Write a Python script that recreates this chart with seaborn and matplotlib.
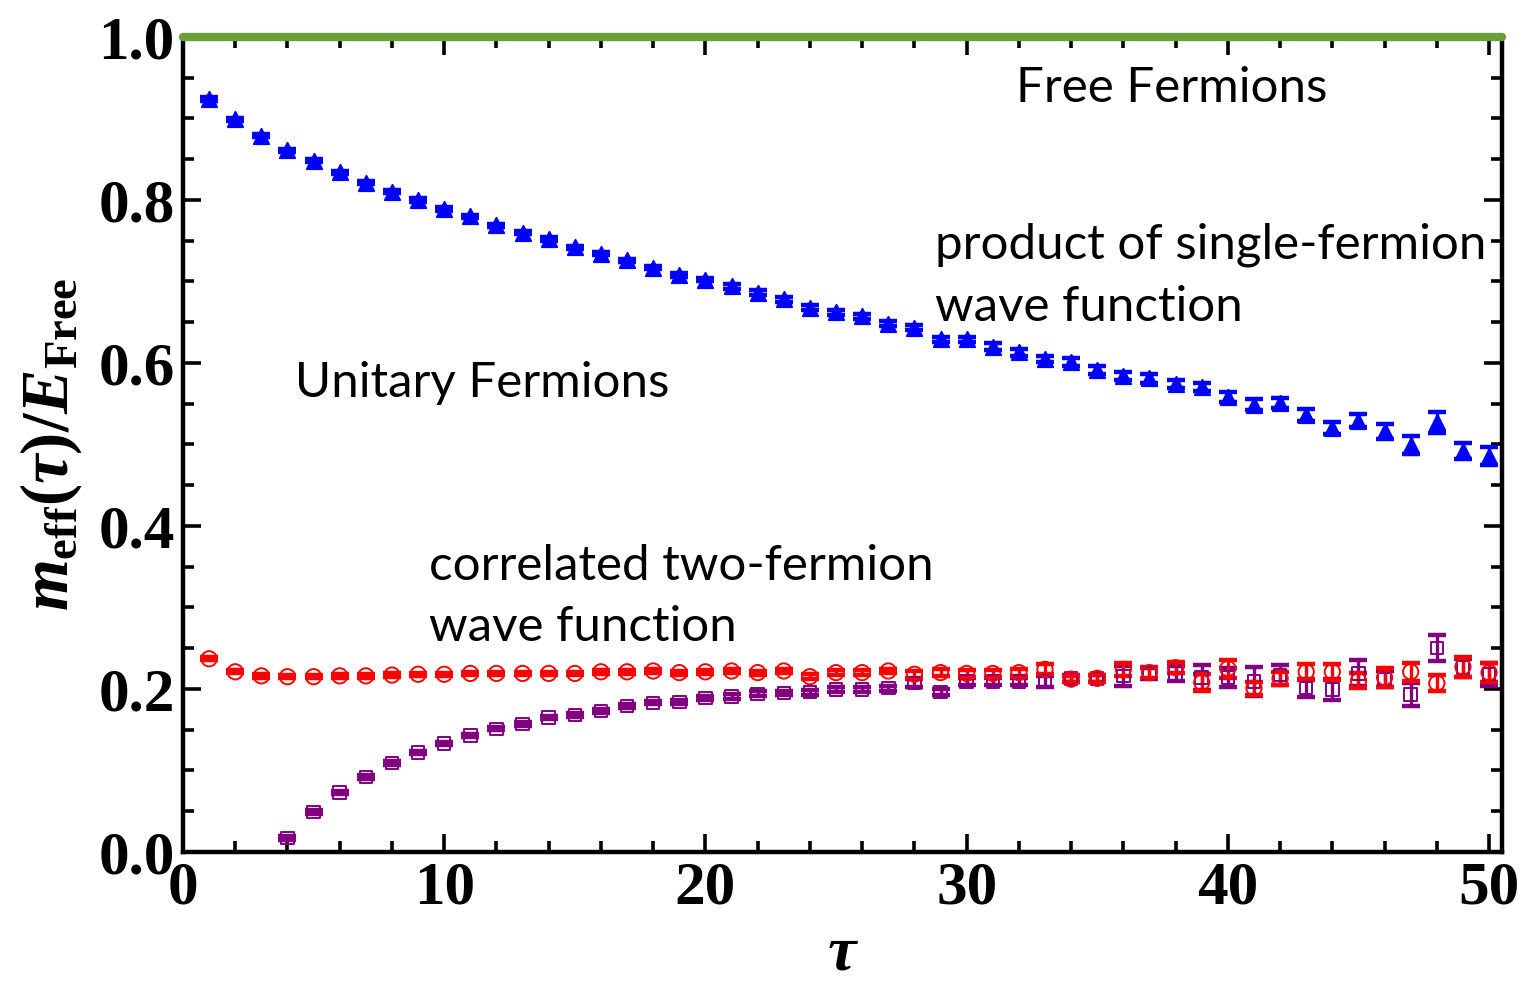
import numpy as np
import pandas as pd
import matplotlib
matplotlib.use("Agg")
import matplotlib.pyplot as plt
import seaborn as sns
from matplotlib.ticker import MultipleLocator

# Effective mass ratio m_eff(tau)/E_Free for two trial wave functions
tau_single = list(range(1, 51))
m_single = [0.924, 0.899, 0.879, 0.861, 0.848, 0.834, 0.821, 0.810, 0.800, 0.789,
            0.780, 0.769, 0.760, 0.752, 0.742, 0.734, 0.726, 0.717, 0.708, 0.702,
            0.694, 0.686, 0.678, 0.668, 0.662, 0.657, 0.648, 0.643, 0.629, 0.629,
            0.620, 0.613, 0.605, 0.601, 0.591, 0.584, 0.581, 0.574, 0.571, 0.558,
            0.549, 0.551, 0.536, 0.520, 0.529, 0.516, 0.499, 0.527, 0.492, 0.486]
err_single = [0.002, 0.002, 0.002, 0.002, 0.002, 0.002, 0.002, 0.002, 0.002, 0.002,
              0.002, 0.002, 0.002, 0.002, 0.002, 0.002, 0.002, 0.002, 0.002, 0.002,
              0.003, 0.003, 0.003, 0.003, 0.003, 0.003, 0.003, 0.003, 0.003, 0.003,
              0.004, 0.004, 0.004, 0.005, 0.005, 0.005, 0.005, 0.005, 0.005, 0.006,
              0.007, 0.006, 0.007, 0.007, 0.008, 0.009, 0.011, 0.013, 0.010, 0.011]

tau_corr = list(range(1, 51))
m_corr = [0.237, 0.221, 0.216, 0.215, 0.215, 0.216, 0.216, 0.217, 0.218, 0.218,
          0.219, 0.219, 0.219, 0.219, 0.219, 0.221, 0.221, 0.222, 0.220, 0.221,
          0.222, 0.220, 0.222, 0.215, 0.220, 0.220, 0.222, 0.218, 0.220, 0.219,
          0.219, 0.220, 0.224, 0.212, 0.213, 0.224, 0.220, 0.226, 0.208, 0.225,
          0.201, 0.213, 0.221, 0.221, 0.210, 0.214, 0.221, 0.207, 0.227, 0.220]
err_corr = [0.002, 0.002, 0.002, 0.002, 0.002, 0.002, 0.002, 0.002, 0.002, 0.002,
            0.002, 0.002, 0.002, 0.002, 0.002, 0.0025, 0.0025, 0.0025, 0.0025, 0.0025,
            0.0025, 0.0025, 0.0025, 0.003, 0.003, 0.003, 0.003, 0.004, 0.004, 0.004,
            0.004, 0.004, 0.006, 0.004, 0.004, 0.008, 0.007, 0.007, 0.010, 0.011,
            0.008, 0.008, 0.010, 0.010, 0.009, 0.012, 0.011, 0.010, 0.012, 0.012]

tau_prod = list(range(4, 51))
m_prod = [0.017, 0.049, 0.073, 0.092, 0.109, 0.122, 0.133, 0.143, 0.151, 0.157,
          0.165, 0.168, 0.173, 0.179, 0.183, 0.184, 0.189, 0.191, 0.194, 0.195,
          0.196, 0.199, 0.199, 0.201, 0.207, 0.196, 0.209, 0.209, 0.209, 0.209,
          0.213, 0.213, 0.216, 0.219, 0.219, 0.214, 0.214, 0.209, 0.217, 0.201,
          0.199, 0.219, 0.212, 0.193, 0.250, 0.226, 0.218]
err_prod = [0.002, 0.002, 0.002, 0.002, 0.002, 0.002, 0.002, 0.002, 0.002, 0.002,
            0.002, 0.002, 0.002, 0.002, 0.002, 0.002, 0.0025, 0.003, 0.003, 0.003,
            0.003, 0.003, 0.003, 0.003, 0.005, 0.004, 0.004, 0.004, 0.004, 0.007,
            0.004, 0.004, 0.012, 0.007, 0.009, 0.015, 0.012, 0.018, 0.012, 0.011,
            0.013, 0.016, 0.010, 0.014, 0.016, 0.011, 0.014]

free_level = 1.0

x_ticks = [0, 10, 20, 30, 40, 50]
y_ticks = [0.0, 0.2, 0.4, 0.6, 0.8, 1.0]

sns.set_theme(style="ticks")
plt.rcParams["font.family"] = ["Liberation Serif", "DejaVu Serif"]
plt.rcParams["text.color"] = "black"
plt.rcParams["axes.labelcolor"] = "black"
plt.rcParams["xtick.color"] = "black"
plt.rcParams["ytick.color"] = "black"
plt.rcParams["mathtext.fontset"] = "custom"
plt.rcParams["mathtext.rm"] = "Liberation Serif:bold"
plt.rcParams["mathtext.bf"] = "Liberation Serif:bold"
plt.rcParams["mathtext.it"] = "Liberation Serif:bold:italic"

fig = plt.figure(figsize=(15.25, 9.86), dpi=100)
ax = fig.add_axes([0.12, 0.136, 0.865, 0.8265])

blue = "#0000ff"
red = "#ff0000"
purple = "#800080"
green = "#6a9e3a"

ax.axhline(free_level, color=green, lw=6, zorder=5, clip_on=False)

# (tau, values, errors, colour, marker, marker size, marker face)
series = [
    (tau_single, m_single, err_single, blue, "^", 11, blue),
    (tau_prod, m_prod, err_prod, purple, "s", 9, "none"),
    (tau_corr, m_corr, err_corr, red, "o", 11, "none"),
]
for tau, m, err, col, mk, ms, face in series:
    df = pd.DataFrame({"tau": tau, "m": m, "err": err})
    ax.errorbar(df["tau"], df["m"], yerr=df["err"], fmt="none", ecolor=col,
                elinewidth=2.4, capsize=6.5, capthick=3.2, zorder=3)
    sns.scatterplot(data=df, x="tau", y="m", marker=mk, s=ms ** 2,
                    facecolor=face, edgecolor=col, linewidth=1.4, ax=ax,
                    zorder=4)

ax.set_xlim(0, 50.5)
ax.set_ylim(0, 1.0)
ax.set_xticks(x_ticks)
ax.set_yticks(y_ticks)
ax.set_xticklabels([str(v) for v in x_ticks])
ax.set_yticklabels([f"{v:.1f}" for v in y_ticks])
ax.xaxis.set_minor_locator(MultipleLocator(2))
ax.yaxis.set_minor_locator(MultipleLocator(0.05))
ax.tick_params(which="both", direction="in", top=True, right=True,
               width=2.6, color="black", labelcolor="black", labelsize=44,
               pad=6)
ax.tick_params(which="major", length=13)
ax.tick_params(which="minor", length=8)
for lab in ax.get_xticklabels() + ax.get_yticklabels():
    lab.set_fontweight("bold")
for sp in ax.spines.values():
    sp.set_linewidth(3.2)
    sp.set_color("black")

ax.set_xlabel(r"$\tau$", fontsize=46, labelpad=7, color="black")
ax.set_ylabel(r"$m_{\mathbf{eff}}(\tau)/E_{\mathbf{Free}}$", fontsize=48,
              labelpad=10, color="black")

txt = dict(family=["Lato", "DejaVu Sans"], fontsize=35.5, color="black",
           va="center", ha="left")
ax.text(31.9, 0.937, "Free Fermions", **txt)
ax.text(28.8, 0.707, "product of single-fermion\nwave function",
        linespacing=1.48, **txt)
ax.text(4.3, 0.575, "Unitary Fermions", **txt)
ax.text(9.4, 0.3135, "correlated two-fermion\nwave function",
        linespacing=1.48, **txt)

fig.savefig("out.png", dpi=100)
